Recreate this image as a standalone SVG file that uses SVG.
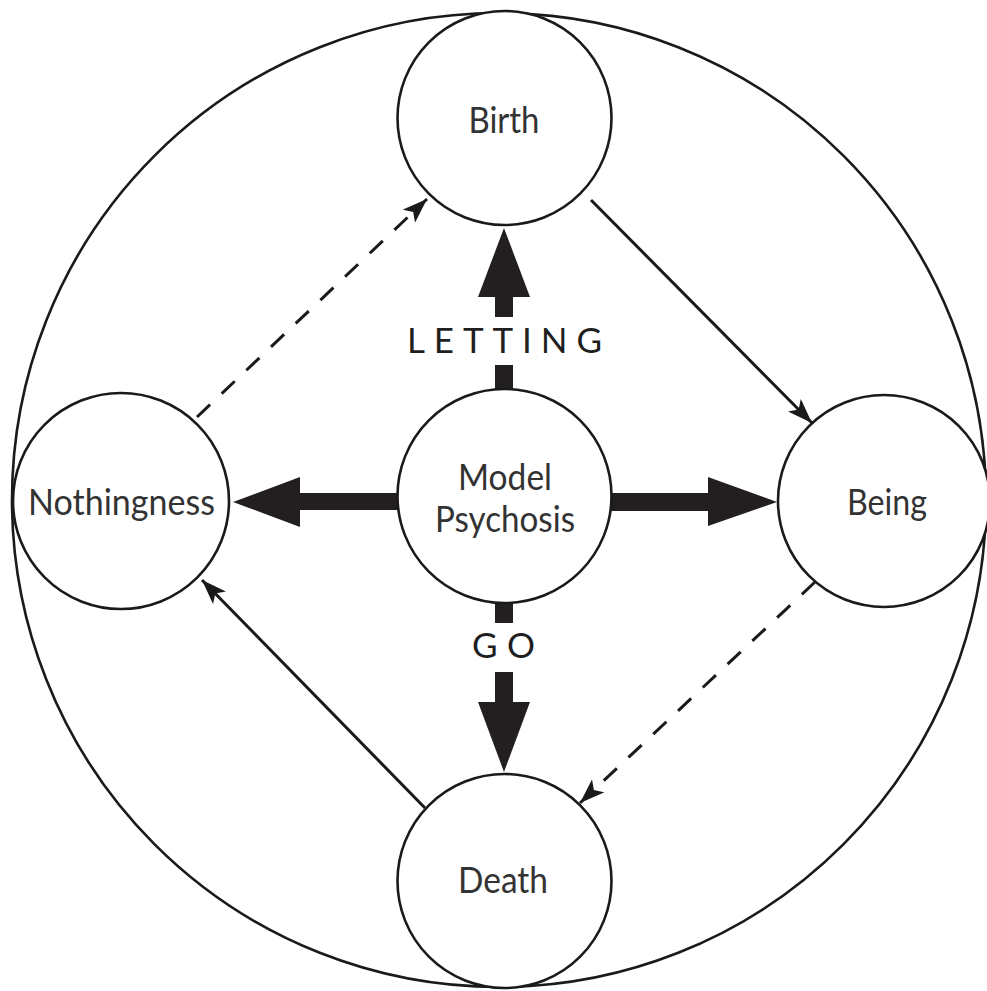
<svg xmlns="http://www.w3.org/2000/svg" width="987" height="991" viewBox="0 0 987 991">
<style>
.outer{fill:none;stroke:#1a1a1a;stroke-width:2.6}
.node{fill:#fff;stroke:#1a1a1a;stroke-width:2.6}
.lbl{font-family:Lato,"Open Sans","DejaVu Sans",sans-serif;font-size:36px;fill:#333;text-anchor:middle}
.big{fill:#231f20}
.thin{fill:none;stroke:#1a1a1a;stroke-width:3}
.dash{stroke-dasharray:18 16}
.word{font-family:Lato,"Open Sans","DejaVu Sans",sans-serif;font-size:35px;fill:#1f1f1f}
</style>
<defs>
<marker id="ah" viewBox="0 0 25 18" refX="25" refY="9" markerWidth="25" markerHeight="18" orient="auto" markerUnits="userSpaceOnUse">
<path d="M0,0 L25,9 L0,18 L6,9 z" fill="#1a1a1a"/>
</marker>
</defs>
<circle class="outer" cx="499" cy="500" r="487"/>
<g id="connectors">
<polygon class="big" points="504,228 530,297 513,297 513,317 495,317 495,297 478,297"/>
<rect class="big" x="495" y="365" width="18" height="27"/>
<polygon class="big" points="233,502 300,477 300,493 400,493 400,510 300,510 300,527"/>
<polygon class="big" points="777,502 708,477 708,493 608,493 608,511 708,511 708,526"/>
<rect class="big" x="495" y="600" width="18" height="23"/>
<polygon class="big" points="504,772 530,702 513,702 513,672 495,672 495,702 478,702"/>
<line class="thin" x1="591" y1="200" x2="812" y2="423" marker-end="url(#ah)"/>
<line class="thin" x1="425" y1="808" x2="202" y2="580" marker-end="url(#ah)"/>
<line class="thin dash" x1="197" y1="417" x2="427" y2="199" marker-end="url(#ah)"/>
<line class="thin dash" x1="815" y1="582" x2="580" y2="803" marker-end="url(#ah)"/>
<text class="word" x="407" y="353" textLength="195" lengthAdjust="spacing">LETTING</text>
<text class="word" x="472" y="658" textLength="63" lengthAdjust="spacing">GO</text>
</g>
<g id="birth">
<circle class="node" cx="504.5" cy="118" r="107"/>
<text class="lbl" x="504" y="133" textLength="71" lengthAdjust="spacingAndGlyphs">Birth</text>
</g>
<g id="model">
<circle class="node" cx="504.5" cy="496" r="107"/>
<text class="lbl" x="505" y="490" textLength="94" lengthAdjust="spacingAndGlyphs">Model</text>
<text class="lbl" x="505" y="532" textLength="140" lengthAdjust="spacingAndGlyphs">Psychosis</text>
</g>
<g id="nothingness">
<circle class="node" cx="121" cy="501" r="108"/>
<text class="lbl" x="121.5" y="515" textLength="187" lengthAdjust="spacingAndGlyphs">Nothingness</text>
</g>
<g id="being">
<circle class="node" cx="884" cy="501" r="106"/>
<text class="lbl" x="887" y="515" textLength="80" lengthAdjust="spacingAndGlyphs">Being</text>
</g>
<g id="death">
<circle class="node" cx="504.5" cy="881" r="107"/>
<text class="lbl" x="503" y="893" textLength="90" lengthAdjust="spacingAndGlyphs">Death</text>
</g>
</svg>
